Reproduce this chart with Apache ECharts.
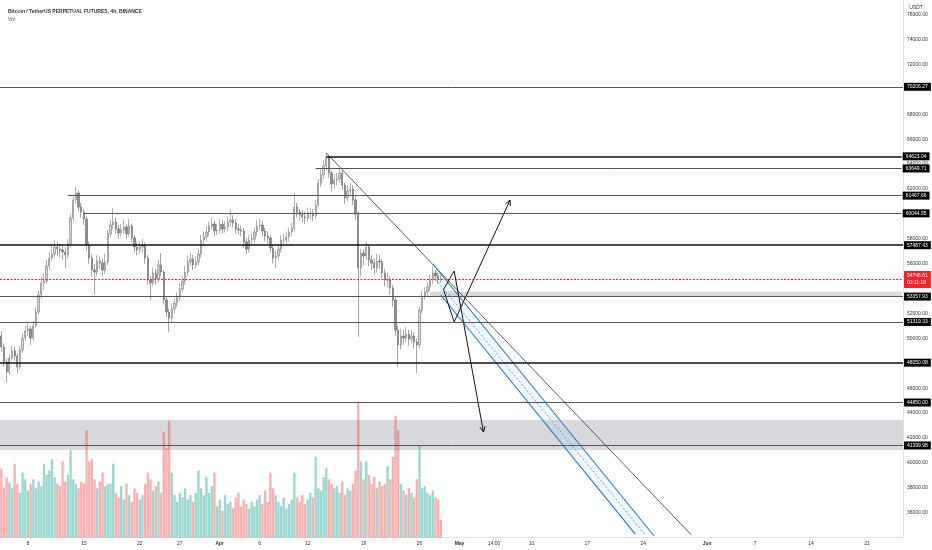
<!DOCTYPE html>
<html>
<head>
<meta charset="utf-8">
<script src="https://cdn.jsdelivr.net/npm/echarts@6/dist/echarts.min.js"></script>
<style>
html,body{margin:0;padding:0;background:#fff}
#chart{width:932px;height:550px}
</style>
</head>
<body>
<div id="chart"></div>
<script>
var firstOpen = 50200;
var closes = [
  49310,48110,47300,48430,48990,48590,47700,49070,50030,50600,
  50760,50030,51000,52120,53490,54450,54610,55820,56460,56780,
  57340,57180,57100,56940,56700,57580,59670,61120,61680,60550,
  60150,59590,57500,56460,55490,55330,56220,56060,55490,56140,
  58390,59110,59350,58790,58470,58710,58950,58390,59030,58070,
  57340,57100,57340,57500,56460,54690,54450,55250,54770,55900,
  55330,53090,52120,51640,52360,52840,53330,53970,54610,55330,
  56140,56380,55900,56140,56780,57900,58150,58550,59030,59190,
  58630,58710,59190,58790,58950,59350,59510,59270,58790,58710,
  58630,57740,57180,57900,57980,58550,59030,59110,58630,58230,
  58070,57260,56460,56620,57180,57900,57900,58150,58550,58870,
  60550,60150,59910,59750,59670,60070,60070,59830,60720,62480,
  63130,63850,64570,63290,62400,62720,62800,63290,62320,61280,
  61840,62000,61120,59990,55660,56860,56620,57340,56300,56060,
  55660,56220,56140,55250,54690,54690,54050,53090,50680,49470,
  50190,50030,50350,49950,50190,49710,49470,52280,53410,53730,
  54130,54690,55250,55010,54770,54746.61
];
var highs = [
  50600,49600,48400,48700,49400,49300,48800,49400,50400,51000,
  51300,51000,51400,52500,53800,54900,55200,56300,57000,57600,
  57900,57800,57600,57500,57300,58000,60000,61500,62160,61900,
  60900,60400,59800,57800,56800,56000,56700,56600,56400,56800,
  58700,59500,60470,59700,59100,59200,59500,59200,59600,59200,
  58300,57700,57800,58000,57700,56700,55000,55700,55600,56300,
  56860,55500,53400,52400,52800,53200,53700,54400,55000,55800,
  56600,56900,56700,56600,57200,58300,58600,59000,59400,59700,
  59500,59200,59600,59500,59400,59800,60310,59900,59600,59200,
  59100,58900,58100,58300,58400,58900,59500,59600,59400,58900,
  58600,58300,57500,57000,57600,58300,58400,58600,58900,59300,
  61680,60900,60400,60300,60200,60500,60500,60400,61100,62800,
  63700,64300,64890,64700,63500,63200,63300,63600,63500,62500,
  62300,62500,62300,61400,60200,57200,57200,57700,57500,56700,
  56400,56800,56700,56400,55600,55300,55000,54300,53300,51000,
  50800,50700,50900,50700,50700,50500,50000,52600,53800,54100,
  54500,55100,55800,55500,55300,55100
];
var lows = [
  48900,47700,46420,47100,48200,48200,47220,47500,48800,49800,
  50200,49470,49800,50800,51900,53200,53900,54400,55500,56200,
  56500,56600,56500,56300,55660,56400,57300,59400,60800,60200,
  59700,59100,57100,56000,55000,53490,55000,55600,55000,55200,
  55900,58100,58800,58400,58000,58200,58400,58000,58200,57700,
  56900,56700,56800,56900,56000,54300,53090,54200,54300,54500,
  55000,52700,51700,50520,51300,52000,52500,53000,53700,54300,
  55000,55800,55500,55600,55900,56500,57500,57800,58200,58700,
  58200,58300,58400,58400,58500,58600,59000,58900,58400,58300,
  58200,57300,56800,56900,57500,57600,58200,58700,58200,57800,
  57600,56900,56000,55660,56300,56900,57400,57600,57800,58200,
  58600,59700,59500,59300,59200,59400,59600,59400,59600,60500,
  62200,62800,63500,62900,61800,62000,62300,62500,61900,60800,
  61000,61500,60700,59500,50110,55000,55900,56300,55800,55500,
  55100,55300,55600,54800,54200,54100,53500,52500,50200,47700,
  49100,49500,49700,49400,49600,49200,47220,49200,52000,53100,
  53400,53800,54400,54600,54400,54500
];
// volume, thousands of BTC per candle
var volumes = [
  154,112,134,123,110,165,120,100,145,130,
  105,120,130,110,125,115,165,140,150,175,
  135,120,115,170,125,140,195,130,120,110,
  125,120,240,170,175,130,110,125,145,115,
  120,120,165,100,90,115,85,120,95,80,
  110,100,85,95,120,145,130,105,115,125,
  100,235,200,260,145,95,80,100,90,110,
  85,95,80,100,150,110,95,135,100,115,
  145,70,85,60,95,75,80,65,90,100,
  70,85,75,65,80,70,85,95,75,105,
  80,145,110,95,80,70,90,65,75,85,
  145,90,80,95,75,85,100,90,180,110,
  105,135,155,130,120,110,115,100,125,95,
  110,105,120,150,300,170,130,170,140,120,
  135,110,125,115,120,160,130,180,272,240,
  120,105,95,110,100,90,130,205,110,115,
  100,95,105,90,85,40
];

// drawn levels (price, start time; null = whole width)
var levelPrices = [70206.27, 64623.04, 63649.71, 61467.66, 60044.95, 57487.43, 53357.93, 51319.33, 48050.08, 44850.00, 41399.98];
var levelStarts = [null, '2021-04-14 08:00', '2021-04-13 00:00', '2021-03-13 00:00', '2021-03-15 00:00', null, null, null, null, null, null];
var heavyLevels = [64623.04, 57487.43, 48050.08];
var lastPrice = 54746.61;
var countdown = '03:11:18';
var zoneWide = [41040, 43450];
var zoneSmall = ['2021-04-27 08:00', 53400, 53760];

var trendLine = [['2021-04-14 08:00', 64892], ['2021-05-30 00:00', 34220]];
var channelTop = [['2021-04-27 16:00', 55977], ['2021-05-25 08:00', 34150]];
var channelMid = [['2021-04-28 00:00', 54772], ['2021-05-24 08:00', 34154]];
var channelBot = [['2021-04-28 16:00', 53487], ['2021-05-23 00:00', 34274]];
var pathUp = [['2021-04-29 00:00', 53928], ['2021-04-30 08:00', 51318], ['2021-05-07 08:00', 61117]];
var pathDown = [['2021-04-29 00:00', 53928], ['2021-04-30 08:00', 55414], ['2021-05-04 00:00', 42483]];

var dateTicks = [
  ['2021-03-08 00:00', '8'], ['2021-03-15 00:00', '15'], ['2021-03-22 00:00', '22'],
  ['2021-03-27 00:00', '27'], ['2021-04-01 00:00', 'Apr'], ['2021-04-06 00:00', '6'],
  ['2021-04-12 00:00', '12'], ['2021-04-19 00:00', '19'], ['2021-04-26 00:00', '26'],
  ['2021-05-01 00:00', 'May'], ['2021-05-05 08:00', '14:00'], ['2021-05-10 00:00', '10'],
  ['2021-05-17 00:00', '17'], ['2021-05-24 00:00', '24'], ['2021-06-01 00:00', 'Jun'],
  ['2021-06-07 00:00', '7'], ['2021-06-14 00:00', '14'], ['2021-06-21 00:00', '21']
];
var hiddenPriceTicks = [34000, 48000, 54000, 60000, 70000];

//类目:每8小时一格
var cats = [];
var t0 = Date.UTC(2021, 2, 4, 16);
for (var k = 0; k < 339; k++) {
  cats.push(new Date(t0 + k * 8 * 3600000).toISOString().slice(0, 16).replace('T', ' '));
}
var lastCat = cats.length - 1;
function idx(d) { return cats.indexOf(d); }

var tickMap = {};
dateTicks.forEach(function (t) { tickMap[t[0]] = t[1]; });

var opens = [firstOpen].concat(closes.slice(0, -1));
var candleData = closes.map(function (c, i) { return [opens[i], c, lows[i], highs[i]]; });
var volData = volumes.map(function (v, i) {
  return {value: v, itemStyle: {color: closes[i] >= opens[i] ? 'rgba(38,166,154,0.45)' : 'rgba(239,83,80,0.45)'}};
});

var font = 'Liberation Sans';
var lvlLines = levelPrices.map(function (p, i) {
  var heavy = heavyLevels.indexOf(p) >= 0;
  var ls = {color: heavy ? '#111' : '#555', width: heavy ? 1.6 : 1, type: 'solid'};
  var lb = {formatter: p.toFixed(2)};
  if (levelStarts[i] === null) {
    return {yAxis: p, lineStyle: ls, label: lb};
  }
  return [{coord: [idx(levelStarts[i]), p], lineStyle: ls, label: lb}, {coord: [lastCat, p]}];
});

function drawRender(params, api) {
  function P(pt) { return api.coord([idx(pt[0]), pt[1]]); }
  function line(pts, stroke, w, dash) {
    return {type: 'polyline', shape: {points: pts.map(P)},
      style: {stroke: stroke, lineWidth: w, fill: null, lineDash: dash || null}};
  }
  function head(path) {
    var a = P(path[path.length - 2]), b = P(path[path.length - 1]);
    var ang = Math.atan2(b[1] - a[1], b[0] - a[0]), L = 6, s = 0.45;
    return {type: 'polyline', shape: {points: [
      [b[0] - L * Math.cos(ang - s), b[1] - L * Math.sin(ang - s)], b,
      [b[0] - L * Math.cos(ang + s), b[1] - L * Math.sin(ang + s)]]},
      style: {stroke: '#111', lineWidth: 1, fill: null}};
  }
  var fill = [P(channelTop[0]), P(channelTop[1]), P(channelBot[1]), P(channelBot[0])];
  var py = Math.round(api.coord([0, lastPrice])[1]) + 0.5;
  var cs = params.coordSys;
  return {type: 'group', children: [
    {type: 'polyline', shape: {points: [[cs.x, py], [cs.x + cs.width, py]]},
      style: {stroke: '#ff2020', fill: null, lineWidth: 1.2, lineDash: [2, 1.5]}},
    {type: 'text', x: cs.x + cs.width + 1, y: py,
      style: {text: lastPrice.toFixed(2) + '\n' + countdown, fontSize: 5, lineHeight: 7,
        fontFamily: font, fill: '#fff', backgroundColor: '#f5222d', padding: [1.5, 3],
        verticalAlign: 'middle', align: 'left'}},
    {type: 'polygon', shape: {points: fill}, style: {fill: 'rgba(33,150,243,0.06)'}},
    line(trendLine, '#333', 0.8),
    line(channelTop, '#2878c8', 1.1),
    line(channelBot, '#2878c8', 1.1),
    line(channelMid, '#5aa6e6', 1, [2, 2]),
    line(pathUp, '#111', 1), head(pathUp),
    line(pathDown, '#111', 1), head(pathDown)
  ]};
}

var chart = echarts.init(document.getElementById('chart'));
chart.setOption({
  animation: false,
  backgroundColor: '#fff',
  textStyle: {fontFamily: font},
  title: {
    text: 'Bitcoin / TetherUS PERPETUAL FUTURES, 4h, BINANCE',
    subtext: 'Vol',
    left: 3, top: 4, itemGap: 3,
    textStyle: {fontSize: 5, fontWeight: 'bold', color: '#333', fontFamily: font},
    subtextStyle: {fontSize: 5, color: '#555', fontFamily: font}
  },
  graphic: [{
    type: 'text', left: 907, top: 4,
    style: {text: 'USDT', fontSize: 5, fill: '#333', fontFamily: font,
      borderColor: '#d6d6d6', borderWidth: 0.6, borderRadius: 2, padding: [1, 2]}
  }],
  grid: {left: 0, right: 29, top: 0, bottom: 12.4},
  xAxis: {
    type: 'category', data: cats, boundaryGap: true,
    axisLine: {lineStyle: {color: '#e0e3eb'}},
    axisTick: {show: false},
    splitLine: {show: false},
    axisLabel: {
      interval: function (i, v) { return tickMap.hasOwnProperty(v); },
      formatter: function (v) {
        var t = tickMap[v];
        return /^[A-Z]/.test(t) ? '{b|' + t + '}' : t;
      },
      fontSize: 5, color: '#333', margin: 4,
      rich: {b: {fontSize: 5, fontWeight: 'bold', color: '#333'}}
    }
  },
  yAxis: [{
    type: 'value', position: 'right', min: 34000, max: 77180, interval: 2000,
    splitLine: {show: false},
    axisLine: {show: true, lineStyle: {color: '#e0e3eb'}},
    axisTick: {show: false},
    axisLabel: {
      margin: 4, fontSize: 5, color: '#333',
      formatter: function (v) {
        if (v % 2000 !== 0 || hiddenPriceTicks.indexOf(v) >= 0) return '';
        return v.toFixed(2);
      }
    }
  }, {
    type: 'value', min: 0, max: 1200, show: false
  }],
  series: [{
    name: 'Vol', type: 'bar', yAxisIndex: 1, data: volData,
    barWidth: 2.4, z: 1, silent: true
  }, {
    name: 'BTCUSDTPERP', type: 'candlestick', data: candleData, barWidth: 1.8, z: 3,
    itemStyle: {color: '#d4d4d4', color0: '#8c8c8c', borderColor: '#7a7a7a', borderColor0: '#666', borderWidth: 0.6},
    markArea: {
      silent: true,
      itemStyle: {color: 'rgba(150,150,160,0.36)'},
      data: [
        [{yAxis: zoneWide[1]}, {yAxis: zoneWide[0]}],
        [{coord: [idx(zoneSmall[0]), zoneSmall[2]]}, {coord: [lastCat, zoneSmall[1]]}]
      ]
    },
    markLine: {
      silent: true, symbol: ['none', 'none'], animation: false,
      label: {position: 'end', distance: 1, fontSize: 5, color: '#fff', backgroundColor: '#000',
        padding: [1.5, 3], fontFamily: font},
      data: lvlLines
    }
  }, {
    type: 'custom', silent: true, z: 4,
    data: [[0, 50000]],
    renderItem: drawRender
  }]
});
</script>
</body>
</html>
